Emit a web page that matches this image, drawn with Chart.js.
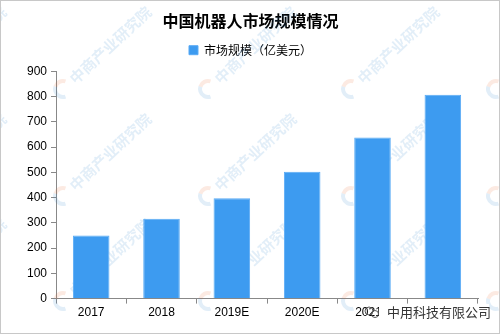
<!DOCTYPE html>
<html><head><meta charset="utf-8">
<script src="https://cdn.jsdelivr.net/npm/chart.js@4/dist/chart.umd.min.js"></script>
<style>
html,body{margin:0;padding:0;background:#fff;}
#wrap{position:relative;width:500px;height:334px;box-sizing:border-box;border:1px solid #c8c8c8;}
canvas{display:block;}
</style></head>
<body><div id="wrap"><canvas id="c" width="498" height="332"></canvas></div>
<script>
const categories = ["2017","2018","2019E","2020E","2021E","2022E"];
const marketSize = [250, 316, 397, 502, 638, 807];
const seriesName = "市场规模（亿美元）";
const chartTitle = "中国机器人市场规模情况";
const yTicks = [0,100,200,300,400,500,600,700,800,900];

const watermark = {
  id:'wm',
  beforeInit(chart){
    const lg = chart.legend;
    if(lg){ const orig = lg.fit; lg.fit = function(){ orig.call(this); this.height += 5; }; }
  },
  beforeDatasetsDraw(chart){
    const ctx = chart.ctx;
    ctx.save();
    const cols=[-83,62,207,350,495], rows=[88,195,300];
    for(const y of rows){ for(const x of cols){
      ctx.save();
      ctx.translate(x,y);
      ctx.globalAlpha=0.15;
      ctx.lineWidth=4;
      ctx.strokeStyle='#e8743b';
      ctx.beginPath();ctx.arc(0,0,8,Math.PI*1.1,Math.PI*1.6);ctx.stroke();
      ctx.strokeStyle='#3a8fd0';
      ctx.beginPath();ctx.arc(0,0,8,Math.PI*0.4,Math.PI*1.1);ctx.stroke();
      ctx.rotate(-Math.PI/4.2);
      ctx.fillStyle='#3a8fd0';
      ctx.font='bold 15px "Noto Sans CJK SC"';
      ctx.textBaseline='middle';
      ctx.fillText('中商产业研究院',12,0);
      ctx.restore();
    }}
    ctx.restore();
  },
  afterDraw(chart){
    const ctx=chart.ctx;
    ctx.save();
    ctx.fillStyle='#fff';
    ctx.fillRect(378,303,110,18);
    ctx.strokeStyle='#555';ctx.lineWidth=1;
    ctx.beginPath();ctx.arc(368,310,4,0,Math.PI*2);ctx.stroke();
    ctx.beginPath();ctx.arc(374,313,3.5,0,Math.PI*2);ctx.stroke();
    ctx.fillStyle='#333';
    ctx.font='13px "Noto Sans CJK SC"';
    ctx.textBaseline='middle';
    ctx.fillText('中用科技有限公司',386,311);
    ctx.restore();
  }
};

new Chart(document.getElementById('c'),{
  type:'bar',
  data:{labels:categories,datasets:[{label:seriesName,data:marketSize,
    backgroundColor:'#3d9bf0',borderColor:'#5aabf5',borderWidth:1,
    categoryPercentage:1,barPercentage:0.52}]},
  options:{
    responsive:false,animation:false,
    layout:{padding:{left:22,right:21,top:4,bottom:11}},
    plugins:{
      title:{display:true,text:chartTitle,color:'#000',font:{family:'"Noto Sans CJK SC"',size:16,weight:'bold'},padding:{top:6,bottom:4}},
      legend:{display:true,labels:{boxWidth:9,boxHeight:9,color:'#000',font:{family:'"Noto Sans CJK SC"',size:12},padding:10}},
      tooltip:{enabled:false}
    },
    scales:{
      x:{offset:true,grid:{display:true,drawOnChartArea:false,offset:true,tickLength:5,color:'#888'},
         border:{color:'#888'},
         ticks:{color:'#000',font:{family:'"Liberation Sans"',size:12},maxRotation:0,padding:2}},
      y:{min:0,max:900,
         afterBuildTicks(ax){ax.ticks=yTicks.map(v=>({value:v}));},
         grid:{display:true,drawOnChartArea:false,tickLength:5,color:'#888'},
         border:{color:'#888'},
         ticks:{color:'#000',font:{family:'"Liberation Sans"',size:12},padding:4}}
    }
  },
  plugins:[watermark]
});
</script></body></html>
